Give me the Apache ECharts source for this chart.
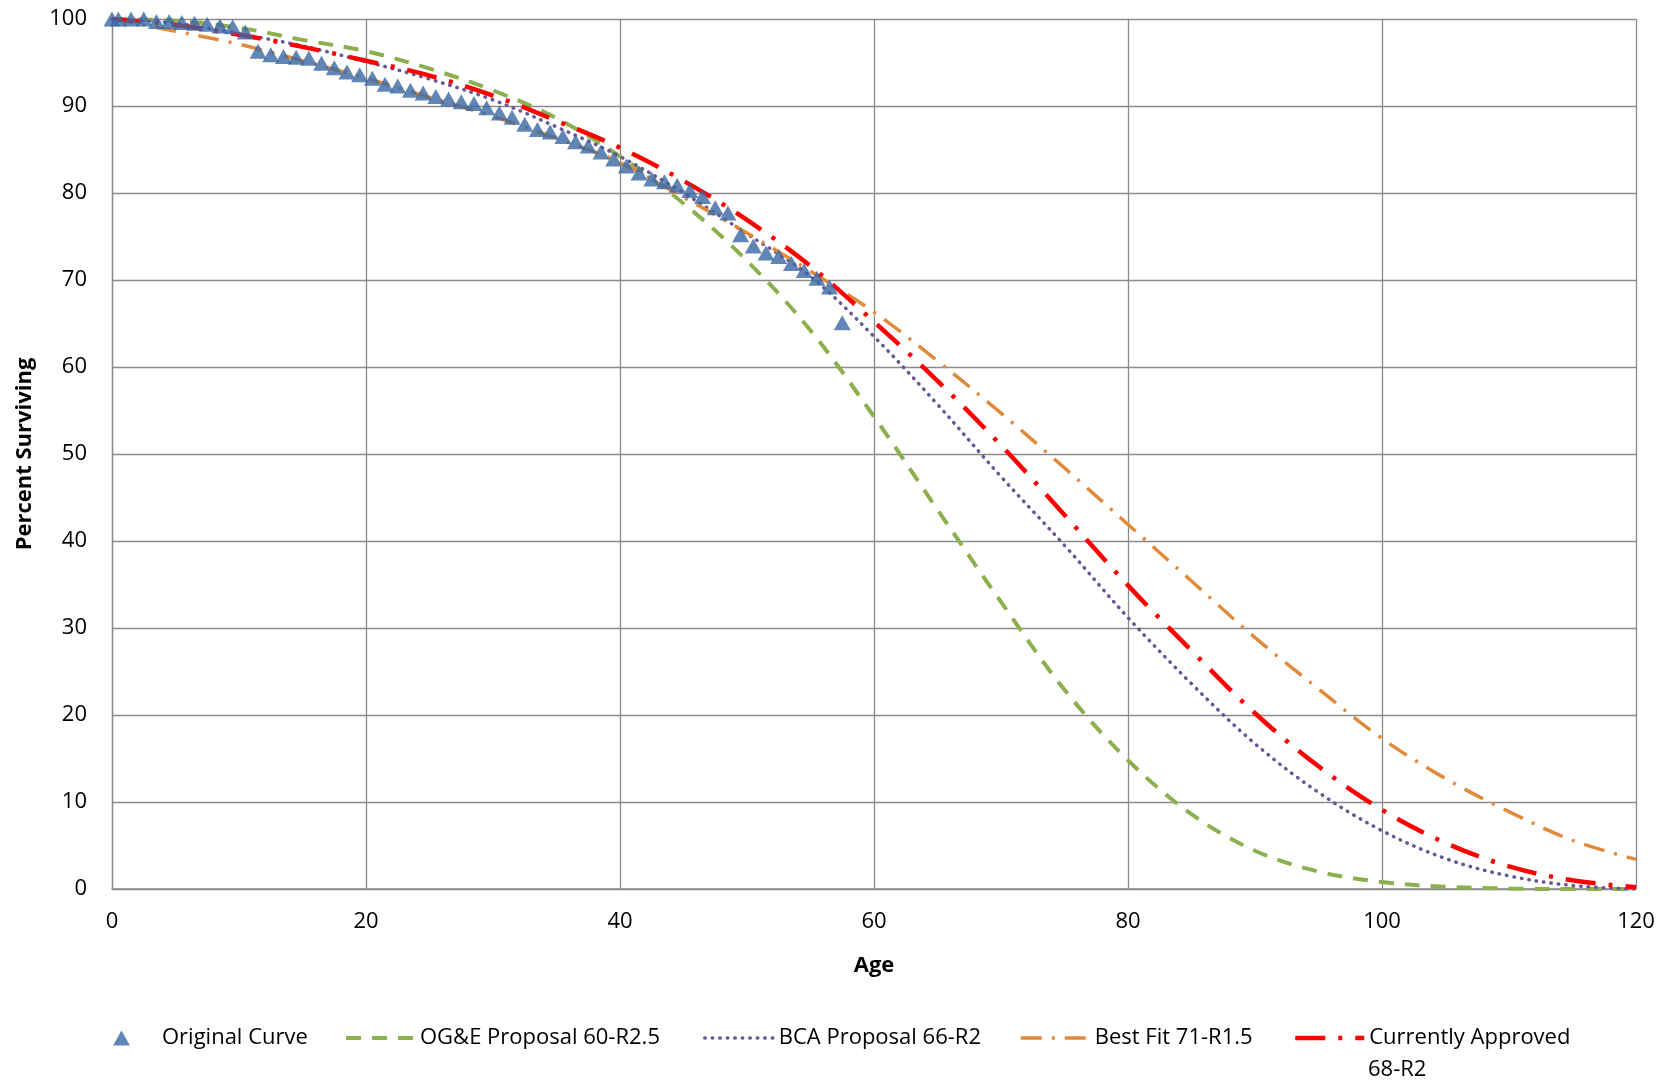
<!DOCTYPE html>
<html>
<head>
<meta charset="utf-8">
<script src="https://cdn.jsdelivr.net/npm/echarts@6/dist/echarts.min.js"></script>
<style>
html,body{margin:0;padding:0;background:#fff;}
#chart{width:1669px;height:1080px;}
</style>
</head>
<body>
<div id="chart"></div>
<script>
// ---- Data ----
const origAges = [0,0.5,1.5,2.5,3.5,4.5,5.5,6.5,7.5,8.5,9.5,10.5,11.5,12.5,13.5,14.5,15.5,16.5,17.5,18.5,19.5,20.5,21.5,22.5,23.5,24.5,25.5,26.5,27.5,28.5,29.5,30.5,31.5,32.5,33.5,34.5,35.5,36.5,37.5,38.5,39.5,40.5,41.5,42.5,43.5,44.5,45.5,46.5,47.5,48.5,49.5,50.5,51.5,52.5,53.5,54.5,55.5,56.5,57.5];
const origValues = [100,100,100,100,99.7,99.7,99.6,99.5,99.4,99.2,99.1,98.5,96.3,95.9,95.7,95.6,95.5,94.9,94.4,93.9,93.6,93.2,92.5,92.3,91.8,91.5,91.1,90.8,90.5,90.3,89.8,89.2,88.7,87.9,87.3,87.0,86.5,85.9,85.4,84.7,83.9,83.1,82.3,81.6,81.3,80.9,80.3,79.6,78.3,77.7,75.2,73.9,73.1,72.7,71.9,71.1,70.2,69.2,65.1];

const curveAges = [0,5,10,15,20,25,30,35,40,45,50,55,60,65,70,75,80,85,90,95,100,105,110,115,120];
const ogeValues = [100,99.8,99.0,97.6,96.3,94.3,91.8,88.6,84.2,78.8,72.2,64.2,54.3,43.6,33.0,22.9,14.8,8.6,4.4,2.0,0.8,0.25,0.05,0,0];
const bcaValues = [100,99.5,98.3,96.9,95.1,93.1,90.7,87.6,84.2,80.0,75.3,70.4,63.5,55.7,47.4,39.5,31.2,23.6,16.7,11.1,6.7,3.5,1.5,0.4,0];
const bestFitValues = [100,98.6,97.1,95.2,93.2,91.0,88.8,86.3,83.5,79.5,75.4,71.0,66.3,60.7,54.7,48.4,41.9,35.4,28.9,23.0,17.3,12.7,8.9,5.6,3.4];
const approvedValues = [100,99.3,98.2,96.8,95.2,93.5,91.2,88.3,85.2,81.4,76.9,71.6,65.2,58.4,51.0,43.0,34.9,27.4,20.2,14.1,9.1,5.3,2.6,1.0,0.2];

const xTicks = {min:0, max:120, interval:20};
const yTicks = {min:0, max:100, interval:10};

const names = ['Original Curve','OG&E Proposal 60-R2.5','BCA Proposal 66-R2','Best Fit 71-R1.5','Currently Approved 68-R2'];

function pairs(xs, ys){ return xs.map((x,i)=>[x, ys[i]]); }

const FONT = '"Open Sans", sans-serif';
const gridColor = '#8a8a8a';

const styles = {
  oge:{color:'#8DB04F', width:4, type:[15,11], cap:'butt'},
  bca:{color:'#6A5596', width:3.5, type:[0.5,7], cap:'round'},
  best:{color:'#E08A3C', width:3.5, type:[21,10,3,10], cap:'butt'},
  appr:{color:'#FF0000', width:4.5, type:[30,13,4,13], cap:'butt'}
};

const chart = echarts.init(document.getElementById('chart'), null, {renderer:'canvas'});

function lineSeries(name, vals, st){
  return {
    name, type:'line', data: pairs(curveAges, vals),
    smooth: 0.35, symbol:'none', showSymbol:false, z:2,
    lineStyle:{color:st.color, width:st.width, type:st.type, cap:st.cap},
    itemStyle:{color:st.color},
    emphasis:{disabled:true}, animation:false
  };
}

function legendAt(name, left, iconW, iconH, extra){
  return Object.assign({
    show:true, data:[name], left, top:1027, orient:'horizontal',
    itemWidth:iconW, itemHeight:iconH, itemGap:0, padding:0,
    selectedMode:false,
    textStyle:{fontFamily:FONT, fontSize:22, color:'#000'}
  }, extra||{});
}
function lineLegend(name, left, st, extra){
  return legendAt(name, left, 69, 14, Object.assign({
    itemStyle:{opacity:0, borderWidth:0},
    lineStyle:{color:st.color, width:st.width, type:st.type, cap:st.cap, opacity:1}
  }, extra||{}));
}

const option = {
  backgroundColor:'#fff',
  animation:false,
  grid:{left:112, right:33, top:19, bottom:191, containLabel:false},
  xAxis:{
    type:'value', min:xTicks.min, max:xTicks.max, interval:xTicks.interval,
    name:'Age', nameLocation:'middle', nameGap:66,
    nameTextStyle:{fontFamily:FONT, fontSize:22, fontWeight:'bold', color:'#000'},
    axisLine:{show:true, lineStyle:{color:gridColor, width:1.5}},
    axisTick:{show:false},
    axisLabel:{fontFamily:FONT, fontSize:22, color:'#000', margin:22},
    splitLine:{show:true, lineStyle:{color:gridColor, width:1.3}}
  },
  yAxis:{
    type:'value', min:yTicks.min, max:yTicks.max, interval:yTicks.interval,
    name:'Percent Surviving', nameLocation:'middle', nameGap:76,
    nameTextStyle:{fontFamily:FONT, fontSize:22, fontWeight:'bold', color:'#000'},
    axisLine:{show:true, lineStyle:{color:gridColor, width:1.3}},
    axisTick:{show:false},
    axisLabel:{fontFamily:FONT, fontSize:22, color:'#000', margin:25},
    splitLine:{show:true, lineStyle:{color:gridColor, width:1.3}}
  },
  legend:[
    legendAt(names[0], 113, 17, 15, {textStyle:{fontFamily:FONT, fontSize:22, color:'#000', padding:[0,0,0,27]}}),
    lineLegend(names[1], 344, styles.oge),
    lineLegend(names[2], 703, styles.bca),
    lineLegend(names[3], 1019, styles.best),
    lineLegend(names[4], 1293, styles.appr, {formatter:()=> 'Currently Approved'})
  ],
  graphic:[
    {type:'text', left:1368, top:1059, style:{text:'68-R2', font:'22px ' + FONT, fill:'#000'}}
  ],
  series:[
    lineSeries(names[1], ogeValues, styles.oge),
    lineSeries(names[2], bcaValues, styles.bca),
    lineSeries(names[3], bestFitValues, styles.best),
    lineSeries(names[4], approvedValues, styles.appr),
    {
      name:names[0], type:'scatter', data: pairs(origAges, origValues),
      symbol:'triangle', symbolSize:[17,15], z:5,
      itemStyle:{color:'#3A68A4'}, emphasis:{disabled:true}
    }
  ]
};
chart.setOption(option);
</script>
</body>
</html>
